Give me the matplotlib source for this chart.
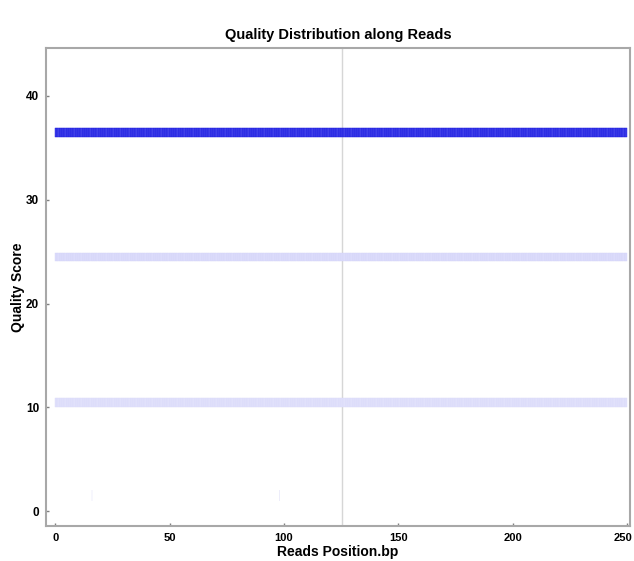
import numpy as np
import matplotlib as mpl
mpl.use('Agg')
import matplotlib.pyplot as plt
import matplotlib.transforms as mtransforms

plt.rcParams['font.family'] = ['Liberation Sans Narrow', 'Liberation Sans', 'DejaVu Sans']

# read positions (bp) and the quality rows that carry counts
positions = np.arange(1, 251)
quality_rows = [10, 24, 36]
row_shade = [0.14, 0.16, 0.88]   # share of reads in each row
sparse_pos = [16, 98]            # a few stray low-quality calls
sparse_q = [1, 1]
sparse_shade = [0.03, 0.07]
read_split = 125.5               # read 1 / read 2 boundary

fig = plt.figure(figsize=(6.34, 5.61), dpi=100)
ax = fig.add_axes([0.0726, 0.062, 0.921, 0.852])

for q, s in zip(quality_rows, row_shade):
    face = (1 - s * 0.85, 1 - s * 0.85, 1 - s * 0.1)
    edge = (1 - min(s * 1.05, 1), 1 - min(s * 1.05, 1), 1 - s * 0.15)
    ax.bar(positions - 0.5, 0.8, bottom=q + 0.08, width=1.0, color=face,
           edgecolor=edge, linewidth=0.3)

for p, q, s in zip(sparse_pos, sparse_q, sparse_shade):
    ax.bar(p, 1.0, bottom=q, width=0.7, color=(1 - s, 1 - s, 1 - s * 0.3), linewidth=0)

ax.axvline(read_split, color='#d6d6d6', lw=1.0, zorder=0)

ax.set_xlim(-4, 251.3)
ax.set_ylim(-1.45, 44.6)
ax.set_xticks([0, 50, 100, 150, 200, 250])
ax.set_yticks([0, 10, 20, 30, 40])
ax.tick_params(direction='in', length=2, width=1, color='#808080', labelsize=8.5, pad=5)
ax.tick_params(axis='x', labelsize=8)
for lab in ax.get_xticklabels() + ax.get_yticklabels():
    lab.set_fontweight('bold')
# keep the last x label inside the figure
last = ax.get_xticklabels()[-1]
last.set_transform(last.get_transform() + mtransforms.ScaledTranslation(-4 / 100, 0, fig.dpi_scale_trans))
for sp in ax.spines.values():
    sp.set_color('#a8a8a8')
    sp.set_linewidth(1.5)

ax.set_title('Quality Distribution along Reads', fontsize=10.5, fontweight='bold', pad=7)
ax.set_xlabel('Reads Position.bp', fontsize=10, fontweight='bold', labelpad=1)
ax.set_ylabel('Quality Score', fontsize=10, fontweight='bold', va='center')
ax.yaxis.set_label_coords(-0.048, 0.5)

fig.savefig('out.png', dpi=100)
